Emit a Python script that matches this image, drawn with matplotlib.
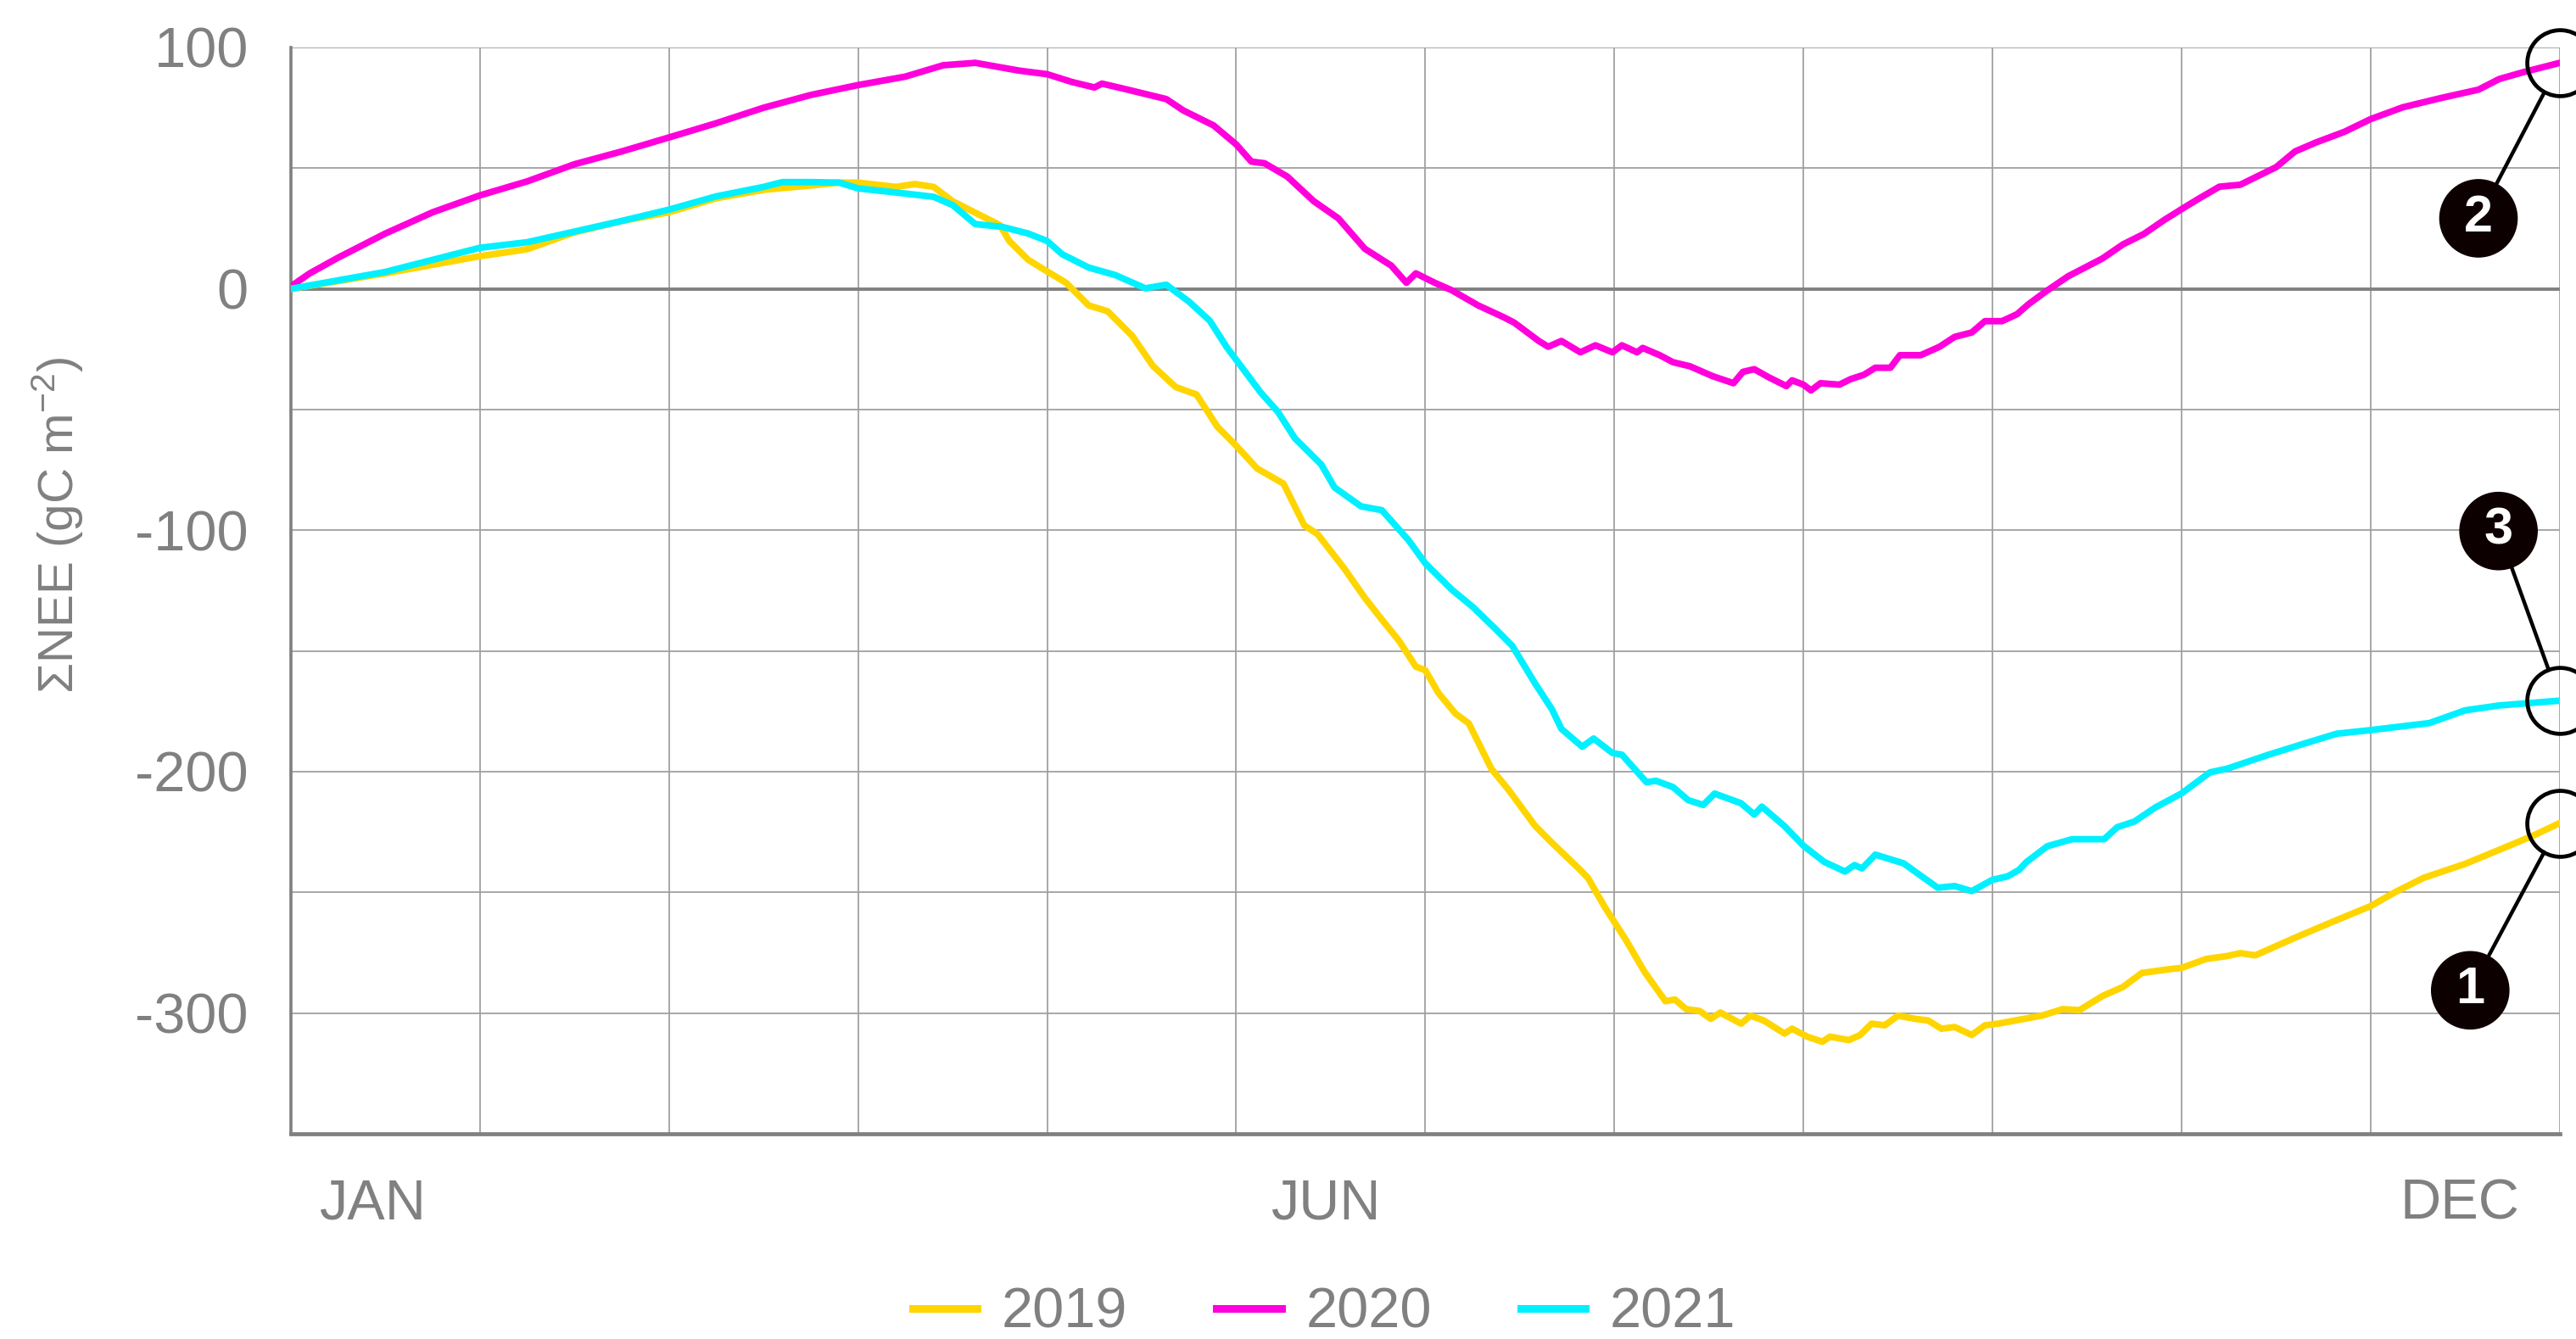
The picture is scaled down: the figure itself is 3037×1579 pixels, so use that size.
# Cumulative NEE per year (2019-2021), recreated with matplotlib
import numpy as np
import matplotlib.pyplot as plt
from matplotlib.lines import Line2D

plt.rcParams.update({
    "font.family": ["Liberation Sans", "DejaVu Sans"],
    "mathtext.fontset": "custom",
    "mathtext.rm": "Liberation Sans",
    "mathtext.it": "Liberation Sans:italic",
    "mathtext.bf": "Liberation Sans:bold",
})

# ------------------------------------------------------------------
# Data (x = position in months from 1 Jan, y = cumulative NEE gC m-2)
# ------------------------------------------------------------------
x_2019 = [0, 0.5, 1.0, 1.25, 1.5, 1.75, 2.0, 2.25, 2.5, 2.75, 2.9, 3.0, 3.2, 3.3,
          3.4, 3.5, 3.6, 3.75, 3.8, 3.9, 4.0, 4.1, 4.22, 4.32, 4.45, 4.56, 4.68,
          4.79, 4.9, 5.0, 5.11, 5.25, 5.36, 5.43, 5.57, 5.68, 5.77, 5.86, 5.95,
          6.0, 6.07, 6.16, 6.23, 6.35, 6.44, 6.58, 6.67, 6.81, 6.86, 6.95, 7.06,
          7.16, 7.27, 7.32, 7.38, 7.45, 7.51, 7.56, 7.67, 7.72, 7.79, 7.9, 7.94,
          8.02, 8.1, 8.14, 8.24, 8.3, 8.36, 8.43, 8.5, 8.59, 8.66, 8.73, 8.8,
          8.89, 8.96, 9.03, 9.12, 9.26, 9.37, 9.46, 9.58, 9.69, 9.79, 9.93, 10.0,
          10.13, 10.24, 10.31, 10.39, 10.6, 10.82, 11.0, 11.13, 11.28, 11.5,
          11.68, 11.86, 12.0]
nee_2019 = [0, 6.4, 13.5, 16.4, 23.4, 28.1, 31.7, 37.5, 41, 42.8, 44, 44, 42.2,
            43.4, 42.2, 36.3, 32.3, 26.4, 19.8, 12, 7.2, 2.5, -6.9, -9.3, -19.5,
            -32, -40.7, -43.8, -57.1, -65, -74.4, -80.7, -98, -101.6, -115.7,
            -128, -137, -145.7, -156.5, -158, -167.5, -176, -180, -198.9,
            -207.5, -222.4, -229.5, -240, -244, -256.2, -269.6, -283, -295.1,
            -294.4, -298.4, -299.1, -302.4, -299.8, -304.4, -301.1, -303.1,
            -308.5, -306.5, -309.8, -311.9, -309.8, -311.2, -309.1, -304.4,
            -305.1, -301.1, -302.4, -303.1, -306.5, -305.8, -309.1, -305.1,
            -304.4, -303.1, -301.1, -298.4, -298.8, -293, -289.2, -283.4,
            -281.9, -281.3, -277.6, -276.4, -275.2, -276.1, -268.8, -261.5,
            -255.7, -249.9, -244, -238.2, -232.4, -226.5, -221.3]

x_2020 = [0, 0.1, 0.25, 0.5, 0.75, 1.0, 1.25, 1.5, 1.75, 2.0, 2.25, 2.5, 2.75,
          3.0, 3.25, 3.45, 3.62, 3.85, 4.0, 4.13, 4.25, 4.29, 4.42, 4.63, 4.72,
          4.88, 5.0, 5.08, 5.15, 5.27, 5.41, 5.54, 5.68, 5.82, 5.9, 5.95, 6.05,
          6.14, 6.28, 6.41, 6.47, 6.6, 6.65, 6.72, 6.82, 6.9, 6.99, 7.04, 7.12,
          7.15, 7.24, 7.31, 7.4, 7.52, 7.63, 7.68, 7.74, 7.82, 7.91, 7.94, 8.0,
          8.04, 8.09, 8.19, 8.25, 8.32, 8.38, 8.46, 8.51, 8.62, 8.72, 8.8, 8.89,
          8.96, 9.05, 9.13, 9.19, 9.28, 9.4, 9.58, 9.69, 9.8, 9.91, 10.0, 10.09,
          10.2, 10.31, 10.5, 10.6, 10.71, 10.86, 11.0, 11.17, 11.37, 11.57,
          11.68, 11.81, 12.0]
nee_2020 = [1, 6.4, 12.9, 22.9, 31.7, 38.7, 44.5, 51.6, 56.9, 62.7, 68.6, 75,
            80.3, 84.4, 87.9, 92.6, 93.6, 90.4, 88.9, 85.7, 83.4, 85, 82.6,
            78.6, 73.9, 67.7, 59.8, 52.7, 52, 46.5, 36.3, 29.2, 16.6, 9.6, 2.5,
            6.4, 2.5, -0.6, -6.9, -11.6, -14, -21.6, -24, -21.6, -26.3, -23.4,
            -26.3, -23.4, -26.3, -24.5, -27.5, -30.4, -32.1, -36.2, -39.1,
            -34.4, -33.3, -36.8, -40.3, -37.9, -39.7, -42.1, -39.1, -39.7,
            -37.4, -35.6, -32.7, -32.7, -27.5, -27.5, -24, -19.9, -18.1, -13.4,
            -13.4, -10.5, -6.4, -1.2, 5.2, 12.5, 18.4, 22.7, 28.6, 33, 37.3,
            42.3, 43.1, 50.4, 56.9, 60.6, 65, 70.3, 75.2, 79, 82.5, 86.9, 89.8,
            93.6]

x_2021 = [0, 0.5, 1.0, 1.25, 1.5, 1.75, 2.0, 2.25, 2.5, 2.6, 2.75, 2.9, 3.0,
          3.2, 3.4, 3.5, 3.62, 3.76, 3.9, 4.0, 4.08, 4.22, 4.36, 4.52, 4.63,
          4.75, 4.86, 4.95, 5.04, 5.13, 5.22, 5.31, 5.45, 5.52, 5.66, 5.77,
          5.91, 6.0, 6.14, 6.25, 6.37, 6.46, 6.58, 6.67, 6.72, 6.83, 6.89, 6.99,
          7.04, 7.17, 7.22, 7.31, 7.39, 7.47, 7.53, 7.67, 7.74, 7.78, 7.9, 8.0,
          8.11, 8.22, 8.27, 8.31, 8.38, 8.53, 8.59, 8.71, 8.8, 8.89, 9.0, 9.08,
          9.14, 9.18, 9.29, 9.42, 9.59, 9.66, 9.75, 9.86, 10.0, 10.15, 10.24,
          10.46, 10.64, 10.82, 11.0, 11.31, 11.5, 11.68, 12.0]
nee_2021 = [0, 7.0, 17, 19.3, 23.7, 28.1, 32.8, 38.3, 42.2, 44.2, 44.2, 44,
            41.6, 39.9, 38.1, 34.7, 26.8, 25.7, 22.9, 19.8, 14.3, 8.8, 5.7, 0.2,
            1.7, -5.3, -13.2, -24.2, -33.6, -43, -50.9, -61.9, -72.8, -82.3,
            -90.1, -91.7, -104, -113.7, -124.6, -131.7, -140.8, -147.9, -163.4,
            -174.2, -182.3, -189.7, -186.3, -192.3, -193, -204.4, -203.8,
            -206.4, -211.8, -213.8, -209.1, -213.1, -217.8, -214.5, -222.6,
            -230.7, -237.4, -241.4, -238.7, -240.1, -234.4, -238, -241.4,
            -248.1, -247.4, -249.5, -244.8, -243.4, -240.7, -237.4, -230.9,
            -228, -228, -223, -220.7, -214.9, -209, -200.3, -198.8, -193,
            -188.6, -184.3, -182.8, -179.9, -174.6, -172.6, -170.6]

years = ["2019", "2020", "2021"]
month_labels = ["JAN", "JUN", "DEC"]
month_label_pos = [0.43, 5.47, 11.47]
y_ticks = list(range(-350, 101, 50))
marker_numbers = ["1", "2", "3"]
# ============================================

GRAY = "#808080"
GRID = "#a0a0a0"
colors = ["#ffd500", "#ff00dc", "#00f0ff"]
# label offsets (points) of the numbered markers relative to each end point
offsets = [(-76, -142), (-69, -132), (-52, 144)]


def main():
    fig = plt.figure(figsize=(30.37, 15.79), dpi=100)
    ax = fig.add_axes([0.1129, 0.1533, 0.8808, 0.8113])

    series = [(x_2019, nee_2019), (x_2020, nee_2020), (x_2021, nee_2021)]

    # grid and axes styling
    ax.set_xlim(0, 12)
    ax.set_ylim(-350, 100)
    ax.set_xticks(np.arange(13), minor=True)
    ax.set_xticks(month_label_pos)
    ax.set_xticklabels(month_labels)
    ax.set_yticks(y_ticks)
    ax.set_yticklabels([str(v) if v % 100 == 0 else "" for v in y_ticks])
    ax.grid(which="minor", axis="x", color=GRID, lw=1.3)
    ax.grid(which="major", axis="y", color=GRID, lw=1.3)
    ax.tick_params(which="both", length=0)
    ax.tick_params(axis="y", pad=36, labelsize=48, labelcolor=GRAY)
    ax.tick_params(axis="x", pad=38, labelsize=48, labelcolor=GRAY)
    ax.axhline(0, color="#808080", lw=2.8, zorder=1)
    for side in ["top", "right"]:
        ax.spines[side].set_visible(False)
    ax.spines["left"].set_color("#808080")
    ax.spines["left"].set_linewidth(2.6)
    ax.spines["bottom"].set_color("#808080")
    ax.spines["bottom"].set_linewidth(3.4)
    ax.set_axisbelow(True)

    # curves
    for (xs, ys), color in zip(series, colors):
        ax.plot(xs, ys, color=color, lw=5.6, solid_capstyle="round",
                solid_joinstyle="round", zorder=3)

    # numbered call-outs at the year-end values
    for (xs, ys), num, off in zip(series, marker_numbers, offsets):
        ax.plot(xs[-1], ys[-1], "o", ms=56, mfc="none", mec="black", mew=3.4,
                clip_on=False, zorder=5)
        ax.annotate(num, xy=(xs[-1], ys[-1]), xytext=off, textcoords="offset points",
                    ha="center", va="center", fontsize=44, fontweight="bold",
                    color="white", annotation_clip=False, zorder=6,
                    bbox=dict(boxstyle="circle,pad=0.28", fc="#0d0000", ec="#0d0000"),
                    arrowprops=dict(arrowstyle="-", color="black", lw=3.2,
                                    shrinkA=0, shrinkB=28))

    # y label
    fig.text(0.0224, 0.608, r"ΣNEE (gC m$^{-2}$)", rotation=90, ha="center",
             va="center", fontsize=42, color=GRAY)

    # legend
    handles = [Line2D([], [], color=c, lw=6.5) for c in colors]
    fig.legend(handles, years, loc="center", bbox_to_anchor=(0.514, 0.019), ncol=3,
               frameon=False, fontsize=48, labelcolor=GRAY, handlelength=1.15,
               handletextpad=0.43, columnspacing=1.57, borderpad=0)

    fig.savefig("out.png", dpi=100)


if __name__ == "__main__":
    main()
